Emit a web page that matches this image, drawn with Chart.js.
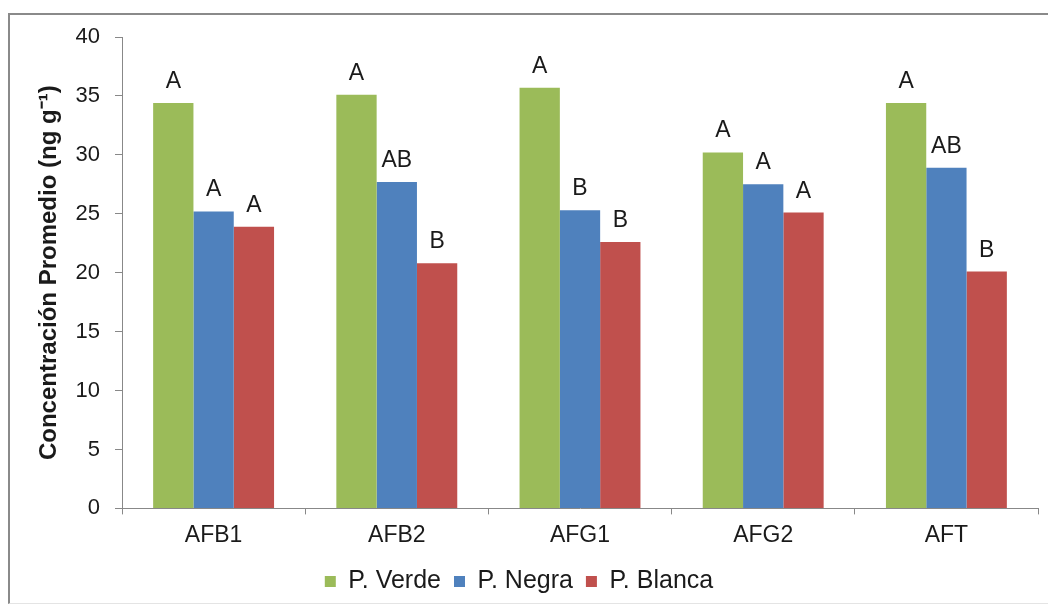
<!DOCTYPE html>
<html>
<head>
<meta charset="utf-8">
<script src="https://cdn.jsdelivr.net/npm/chart.js@4.4.1/dist/chart.umd.min.js"></script>
<style>
  html, body { margin: 0; padding: 0; background: #fff; }
  #wrap { position: relative; width: 1048px; height: 610px; overflow: hidden; }
  #frame { position: absolute; left: 8px; top: 13px; width: 1060px; height: 591px;
           border: 2px solid #8a8a8a; border-bottom: 1px solid #e4e4e4; box-sizing: border-box; }
  #c { position: absolute; left: 0; top: 0; }
</style>
</head>
<body>
<div id="wrap">
  <div id="frame"></div>
  <canvas id="c" width="1048" height="610"></canvas>
</div>
<script>
const categories = ['AFB1', 'AFB2', 'AFG1', 'AFG2', 'AFT'];
const verde  = [34.4, 35.1, 35.7, 30.2, 34.4];
const negra  = [25.2, 27.7, 25.3, 27.5, 28.9];
const blanca = [23.9, 20.8, 22.6, 25.1, 20.1];
const letrasVerde  = ['A', 'A', 'A', 'A', 'A'];
const letrasNegra  = ['A', 'AB', 'B', 'A', 'AB'];
const letrasBlanca = ['A', 'B', 'B', 'A', 'B'];
const yTicks = [0, 5, 10, 15, 20, 25, 30, 35, 40];

const FONT = '"Liberation Sans", Arial, sans-serif';

// letras de significancia encima de cada barra
const letrasPlugin = {
  id: 'letras',
  afterDatasetsDraw(chart) {
    const ctx = chart.ctx;
    ctx.save();
    ctx.font = '23px ' + FONT;
    ctx.fillStyle = '#1a1a1a';
    ctx.textAlign = 'center';
    ctx.textBaseline = 'alphabetic';
    chart.data.datasets.forEach((ds, i) => {
      const meta = chart.getDatasetMeta(i);
      meta.data.forEach((bar, j) => {
        ctx.fillText(ds.letras[j], bar.x, bar.y - 15);
      });
    });
    ctx.restore();
  }
};

new Chart(document.getElementById('c'), {
  type: 'bar',
  data: {
    labels: categories,
    datasets: [
      { label: 'P. Verde', data: verde, letras: letrasVerde, backgroundColor: '#9bbb59' },
      { label: 'P. Negra', data: negra, letras: letrasNegra, backgroundColor: '#4f81bd' },
      { label: 'P. Blanca', data: blanca, letras: letrasBlanca, backgroundColor: '#c0504d' }
    ]
  },
  options: {
    responsive: false,
    animation: false,
    datasets: { bar: { categoryPercentage: 0.66, barPercentage: 1.0 } },
    layout: { padding: { left: 0, right: 10, top: 37, bottom: 6 } },
    plugins: {
      tooltip: { enabled: false },
      legend: {
        position: 'bottom',
        labels: {
          font: { size: 25, family: FONT },
          color: '#1a1a1a',
          boxWidth: 11, boxHeight: 11,
          padding: 13
        }
      }
    },
    scales: {
      x: {
        grid: { display: true, drawOnChartArea: false, offset: true, tickLength: 6, color: '#888' },
        border: { display: true, color: '#888' },
        ticks: { font: { size: 23, family: FONT }, color: '#1a1a1a', padding: 7 }
      },
      y: {
        min: 0, max: 40,
        afterBuildTicks: s => { s.ticks = yTicks.map(v => ({ value: v })); },
        afterFit: s => { s.width = 122; },
        grid: { display: true, drawOnChartArea: false, tickLength: 7, color: '#888' },
        border: { display: true, color: '#888' },
        ticks: { font: { size: 22, family: FONT }, color: '#1a1a1a', padding: 15 },
        title: {
          display: true,
          text: 'Concentración Promedio (ng g⁻¹)',
          font: { size: 24, weight: 'bold', family: FONT },
          color: '#1a1a1a',
          padding: { top: 35, bottom: 0 }
        }
      }
    }
  },
  plugins: [letrasPlugin]
});
</script>
</body>
</html>
